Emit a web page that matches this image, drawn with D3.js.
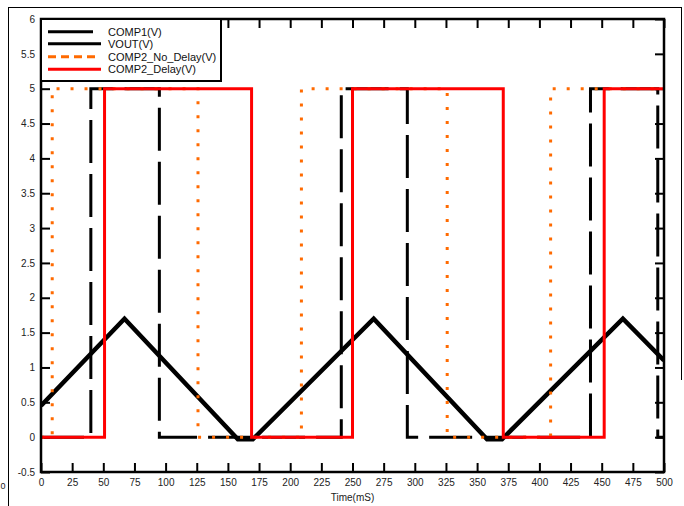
<!DOCTYPE html>
<html><head><meta charset="utf-8">
<script src="https://cdn.jsdelivr.net/npm/d3@7"></script>
<style>
html,body{margin:0;padding:0;background:#fff;}
svg{display:block;font-family:"Liberation Sans",Arial,sans-serif;}
</style></head>
<body><svg id="c" width="684" height="506"></svg>
<script>
// ---- data ----
const xTickValues = [0,25,50,75,100,125,150,175,200,225,250,275,300,325,350,375,400,425,450,475,500];
const yTickValues = [-0.5,0,0.5,1,1.5,2,2.5,3,3.5,4,4.5,5,5.5,6];
const seriesNames = ["COMP1(V)","VOUT(V)","COMP2_No_Delay(V)","COMP2_Delay(V)"];
const comp1 = [[0,0],[40,0],[40,5],[95,5],[95,0],[241,0],[241,5],[294,5],[294,0],[441,0],[441,5],[495,5],[495,0],[500,0]];
const vout = [[0,0.45],[67,1.7],[158,-0.03],[170,-0.03],[267,1.7],[358,-0.03],[370,-0.03],[467,1.7],[500,1.1]];
const comp2NoDelay = [[0,0],[9,0],[9,5],[126,5],[126,0],[209,0],[209,5],[326,5],[326,0],[409,0],[409,5],[500,5]];
const comp2Delay = [[0,0],[51,0],[51,5],[169,5],[169,0],[250,0],[250,5],[371,5],[371,0],[452,0],[452,5],[500,5]];

// ---- layout ----
const svg = d3.select("#c");
const L=41, R=664, T=19, B=472;
const x = d3.scaleLinear().domain([0,500]).range([L,R]);
const y = d3.scaleLinear().domain([-0.5,6]).range([B,T]);

// outer frame
svg.append("line").attr("x1",8.5).attr("x2",8.5).attr("y1",7).attr("y2",506).attr("stroke","#000").attr("stroke-width",1);
svg.append("line").attr("x1",8).attr("x2",681.5).attr("y1",7.5).attr("y2",7.5).attr("stroke","#000").attr("stroke-width",1);
svg.append("line").attr("x1",681.5).attr("x2",681.5).attr("y1",7).attr("y2",380).attr("stroke","#000").attr("stroke-width",1);
svg.append("text").attr("x",0.5).attr("y",489).attr("text-anchor","start").attr("font-size",9).attr("fill","#222").text("0");

const defs = svg.append("defs");
defs.append("clipPath").attr("id","clip").append("rect").attr("x",L).attr("y",T).attr("width",R-L).attr("height",B-T);

// axes with inward ticks
const tl = 9;
const gB = svg.append("g").attr("transform",`translate(0,${B})`)
  .call(d3.axisBottom(x).tickValues(xTickValues).tickSizeInner(-tl).tickSizeOuter(0).tickPadding(5).tickFormat(d3.format("d")));
const gT = svg.append("g").attr("transform",`translate(0,${T})`)
  .call(d3.axisTop(x).tickValues(xTickValues).tickSizeInner(-tl).tickSizeOuter(0).tickFormat(""));
const gL = svg.append("g").attr("transform",`translate(${L},0)`)
  .call(d3.axisLeft(y).tickValues(yTickValues).tickSizeInner(-tl).tickSizeOuter(0).tickPadding(6).tickFormat(d=>String(d)));
const gR = svg.append("g").attr("transform",`translate(${R},0)`)
  .call(d3.axisRight(y).tickValues(yTickValues).tickSizeInner(-tl).tickSizeOuter(0).tickFormat(""));
[gB,gT,gL,gR].forEach(g=>{
  g.select(".domain").remove();
  g.selectAll(".tick line").attr("stroke","#000").attr("stroke-width",2);
  g.selectAll("text").attr("font-size",10).attr("fill","#222").attr("font-family","Liberation Sans, Arial, sans-serif");
});
gB.selectAll("text").attr("dy","0.9em");

svg.append("text").attr("x",(L+R)/2).attr("y",501).attr("text-anchor","middle")
  .attr("font-size",10).attr("fill","#222").text("Time(mS)");

// series
const line = d3.line().x(d=>x(d[0])).y(d=>y(d[1]));
const pg = svg.append("g").attr("clip-path","url(#clip)");
pg.append("path").datum(comp1).attr("d",line).attr("fill","none").attr("stroke","#000")
  .attr("stroke-width",3).attr("stroke-dasharray","43,11");
pg.append("path").datum(vout).attr("d",line).attr("fill","none").attr("stroke","#000")
  .attr("stroke-width",4.5).attr("stroke-linejoin","miter");
pg.append("path").datum(comp2NoDelay).attr("d",line).attr("fill","none").attr("stroke","#ff6a00")
  .attr("stroke-width",3).attr("stroke-dasharray","3,11");
pg.append("path").datum(comp2Delay).attr("d",line).attr("fill","none").attr("stroke","#ff0000")
  .attr("stroke-width",3);

// plot box
svg.append("rect").attr("x",L).attr("y",T).attr("width",R-L).attr("height",B-T)
  .attr("fill","none").attr("stroke","#000").attr("stroke-width",2.5);

// legend
const lg = svg.append("g");
lg.append("rect").attr("x",L).attr("y",T).attr("width",221-L).attr("height",81-T)
  .attr("fill","#fff").attr("stroke","#000").attr("stroke-width",2);
const legendStyles = [
  {color:"#000",w:3,dash:null,x2:93},
  {color:"#000",w:3,dash:null,x2:101},
  {color:"#ff6a00",w:3,dash:"8,5",x2:97},
  {color:"#ff0000",w:3,dash:null,x2:101}
];
const rowY = [31.7,43.7,56.7,69.3];
seriesNames.forEach((n,i)=>{
  const s = legendStyles[i];
  const ln = lg.append("line").attr("x1",48).attr("x2",s.x2).attr("y1",rowY[i]).attr("y2",rowY[i])
    .attr("stroke",s.color).attr("stroke-width",s.w);
  if(s.dash) ln.attr("stroke-dasharray",s.dash);
  lg.append("text").attr("x",108).attr("y",rowY[i]).attr("dy","0.35em")
    .attr("font-size",11).attr("fill","#111").text(n);
});
</script>
</body></html>
